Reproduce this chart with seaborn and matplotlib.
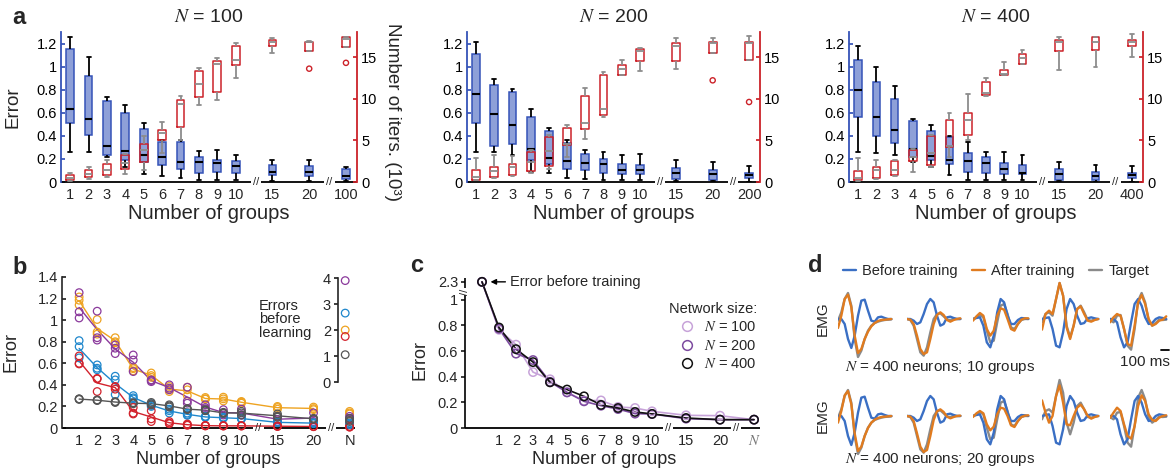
import matplotlib
matplotlib.use("Agg")
import matplotlib.pyplot as plt
from matplotlib.lines import Line2D
import pandas as pd
import seaborn as sns

sns.set_theme(style="ticks")
plt.rcParams["font.family"] = ["Liberation Sans", "DejaVu Sans"]
plt.rcParams["mathtext.fontset"] = "stix"
plt.rcParams["axes.unicode_minus"] = False

# ------------------------------------------------------------------ data
GROUP_POS = [1, 2, 3, 4, 5, 6, 7, 8, 9, 10, 12, 14, 16]
GROUP_NAMES = ["1", "2", "3", "4", "5", "6", "7", "8", "9", "10", "15", "20"]

# five-number summaries (min, q1, median, q3, max) of the error per group count
err_n100 = [
    [0.26, 0.51, 0.635, 1.15, 1.26], [0.26, 0.41, 0.55, 0.92, 1.08],
    [0.22, 0.235, 0.31, 0.70, 0.74], [0.13, 0.19, 0.27, 0.60, 0.67],
    [0.07, 0.17, 0.23, 0.46, 0.51], [0.05, 0.15, 0.22, 0.35, 0.365],
    [0.037, 0.113, 0.177, 0.345, 0.365], [0.017, 0.075, 0.17, 0.215, 0.27],
    [0.017, 0.09, 0.168, 0.19, 0.278], [0.017, 0.075, 0.139, 0.183, 0.235],
    [0.01, 0.06, 0.09, 0.15, 0.19], [0.01, 0.05, 0.09, 0.14, 0.19],
    [0.01, 0.03, 0.05, 0.11, 0.13],
]
err_n200 = [
    [0.26, 0.51, 0.76, 1.11, 1.21], [0.26, 0.315, 0.59, 0.845, 0.89],
    [0.23, 0.33, 0.49, 0.78, 0.81], [0.09, 0.19, 0.285, 0.56, 0.635],
    [0.08, 0.16, 0.21, 0.44, 0.47], [0.035, 0.11, 0.18, 0.335, 0.365],
    [0.03, 0.10, 0.165, 0.24, 0.28], [0.015, 0.08, 0.155, 0.20, 0.26],
    [0.015, 0.07, 0.10, 0.16, 0.23], [0.015, 0.067, 0.10, 0.15, 0.24],
    [0.005, 0.023, 0.08, 0.12, 0.19], [0.005, 0.015, 0.067, 0.10, 0.175],
    [0.0, 0.035, 0.065, 0.08, 0.14],
]
err_n400 = [
    [0.26, 0.56, 0.80, 1.06, 1.18], [0.25, 0.40, 0.56, 0.87, 1.00],
    [0.23, 0.34, 0.45, 0.72, 0.83], [0.175, 0.22, 0.285, 0.525, 0.55],
    [0.13, 0.19, 0.225, 0.44, 0.49], [0.06, 0.155, 0.195, 0.39, 0.40],
    [0.02, 0.09, 0.185, 0.25, 0.35], [0.015, 0.08, 0.165, 0.22, 0.26],
    [0.015, 0.07, 0.11, 0.165, 0.26], [0.015, 0.067, 0.08, 0.145, 0.23],
    [0.005, 0.015, 0.067, 0.11, 0.175], [0.003, 0.015, 0.05, 0.087, 0.15],
    [0.0, 0.035, 0.058, 0.08, 0.14],
]

# five-number summaries of the number of iterations (x 10^3)
iters_n100 = [
    [0.1, 0.3, 0.5, 0.85, 1.1], [0.35, 0.6, 1.0, 1.4, 1.8],
    [0.6, 0.8, 1.5, 2.2, 2.7], [1.0, 1.6, 2.3, 3.2, 3.4],
    [1.5, 2.4, 3.8, 4.6, 5.5], [3.5, 5.1, 5.85, 6.25, 7.2],
    [5.0, 6.6, 9.4, 9.8, 10.3], [9.2, 10.2, 11.8, 13.3, 13.7],
    [9.8, 10.8, 14.2, 14.5, 14.9], [12.5, 14.0, 14.6, 16.3, 16.7],
    [15.5, 16.3, 16.8, 17.0, 17.3], [15.7, 15.7, 16.8, 16.8, 16.9],
    [16.2, 16.2, 17.2, 17.4, 17.4],
]
iters_n200 = [
    [0.2, 0.3, 0.6, 1.4, 2.9], [0.5, 0.6, 1.3, 1.8, 3.2],
    [0.7, 0.9, 1.8, 2.2, 3.1], [1.1, 1.3, 2.4, 3.6, 3.8],
    [1.6, 1.96, 3.7, 5.4, 5.7], [3.0, 4.4, 4.6, 6.44, 6.84],
    [5.12, 6.32, 7.12, 10.36, 11.24], [7.84, 8.04, 8.72, 12.8, 13.2],
    [12.8, 12.9, 13.6, 14.0, 14.7], [13.3, 14.5, 15.7, 16.0, 16.1],
    [13.6, 14.5, 16.3, 16.7, 17.3], [15.5, 15.5, 16.7, 16.8, 17.3],
    [14.7, 14.7, 16.7, 16.8, 17.5],
]
iters_n400 = [
    [0.1, 0.2, 0.5, 1.3, 2.9], [0.4, 0.5, 1.5, 1.8, 2.7],
    [0.7, 0.9, 1.5, 2.5, 2.6], [1.2, 2.5, 3.0, 3.9, 4.0],
    [1.8, 2.1, 3.5, 5.5, 5.7], [3.0, 4.2, 4.3, 7.4, 8.3],
    [5.0, 5.6, 7.4, 8.3, 10.6], [10.3, 10.5, 10.7, 12.0, 12.5],
    [12.8, 12.9, 13.0, 13.5, 14.4], [14.2, 14.2, 14.9, 15.4, 15.8],
    [13.5, 15.7, 16.8, 17.1, 17.4], [13.8, 15.9, 16.8, 17.4, 17.4],
    [15.0, 16.3, 16.8, 17.0, 17.8],
]
outlier_groups_n100 = ["20", "100"]
outlier_iters_n100 = [13.6, 14.3]
outlier_groups_n200 = ["20", "200"]
outlier_iters_n200 = [12.2, 9.6]
outlier_groups_n400 = []
outlier_iters_n400 = []

# panel b: error of repeated runs for five target sets (groups 1..10, 15, 20, N)
runs_orange = [
    [1.215, 1.006, 0.837, 0.55, 0.51, 0.385, 0.378, 0.283, 0.286, 0.246, 0.20, 0.194, 0.154],
    [1.185, 0.89, 0.79, 0.53, 0.486, 0.338, 0.354, 0.268, 0.25, 0.23, 0.175, 0.17, 0.13],
    [1.14, 0.87, 0.80, 0.56, 0.47, 0.36, 0.30, 0.27, 0.27, 0.24, 0.19, 0.18, 0.14],
]
runs_purple = [
    [1.255, 1.083, 0.77, 0.677, 0.446, 0.40, 0.378, 0.215, 0.17, 0.175, 0.108, 0.14, 0.108],
    [1.077, 0.837, 0.69, 0.63, 0.43, 0.354, 0.23, 0.178, 0.14, 0.123, 0.077, 0.077, 0.09],
    [1.02, 0.815, 0.74, 0.523, 0.44, 0.37, 0.25, 0.19, 0.12, 0.12, 0.06, 0.06, 0.08],
]
runs_blue = [
    [0.81, 0.585, 0.48, 0.30, 0.225, 0.175, 0.138, 0.108, 0.10, 0.09, 0.052, 0.046, 0.046],
    [0.754, 0.554, 0.446, 0.27, 0.20, 0.138, 0.117, 0.10, 0.09, 0.085, 0.05, 0.04, 0.03],
    [0.65, 0.54, 0.31, 0.28, 0.21, 0.16, 0.125, 0.10, 0.095, 0.088, 0.055, 0.05, 0.035],
]
runs_red = [
    [0.668, 0.46, 0.385, 0.19, 0.16, 0.06, 0.037, 0.025, 0.022, 0.022, 0.02, 0.015, 0.015],
    [0.594, 0.455, 0.36, 0.138, 0.085, 0.046, 0.03, 0.02, 0.02, 0.02, 0.015, 0.015, 0.01],
    [0.60, 0.338, 0.38, 0.13, 0.06, 0.04, 0.025, 0.02, 0.018, 0.018, 0.015, 0.012, 0.008],
]
runs_gray = [
    [0.27, 0.26, 0.24, 0.23, 0.237, 0.215, 0.175, 0.17, 0.145, 0.155, 0.13, 0.09, 0.09],
    [0.265, 0.255, 0.237, 0.225, 0.225, 0.205, 0.18, 0.165, 0.14, 0.14, 0.11, 0.085, 0.06],
    [0.27, 0.258, 0.245, 0.235, 0.215, 0.195, 0.17, 0.16, 0.135, 0.12, 0.10, 0.08, 0.07],
]
error_before_learning = [2.0, 3.9, 2.65, 1.75, 1.05]  # orange, purple, blue, red, gray

# panel c: mean error vs number of groups (first value: before training)
C_POS = [0, 1, 2, 3, 4, 5, 6, 7, 8, 9, 10, 12, 14, 16]
c_err_n100 = [2.3, 0.766, 0.65, 0.436, 0.38, 0.278, 0.213, 0.215, 0.164, 0.156, 0.13, 0.099, 0.096, 0.065]
c_err_n200 = [2.3, 0.774, 0.58, 0.53, 0.36, 0.278, 0.208, 0.174, 0.148, 0.112, 0.109, 0.073, 0.065, 0.065]
c_err_n400 = [2.3, 0.784, 0.615, 0.514, 0.356, 0.30, 0.247, 0.18, 0.156, 0.125, 0.11, 0.078, 0.065, 0.065]

# panel d: EMG traces of five muscles, sampled every 40 ms
TIME_MS = [0, 40, 80, 120, 160, 200, 240, 280, 320, 360, 400, 440, 480, 520, 560, 600, 640]
emg_before = [
    [0, 0, -15, -60, -87, -50, 10, 55, 58, 25, -5, -8, 5, 7, 3, 0, 0],
    [0, 0, -5, -15, -10, 15, 45, 60, 50, 10, -20, -15, 5, 7, 3, 0, 0],
    [0, 3, 5, -20, -70, -85, -50, 20, 60, 50, 10, -15, -15, -3, 3, 2, 0],
    [0, 3, 5, -30, -80, -85, -40, 30, 60, 45, 10, -15, -12, 2, 5, 2, 0],
    [0, 0, -10, -55, -85, -70, -10, 45, 60, 40, 5, -15, -12, 0, 5, 3, 0],
]
emg_target = [
    [-5, 20, 60, 78, 40, -60, -114, -95, -60, -35, -20, -12, -8, -5, -3, -2, -1],
    [0, -3, -20, -60, -100, -110, -85, -40, 0, 15, 17, 8, -2, -3, 0, 0, 0],
    [0, 5, 12, 5, -35, -70, -65, -10, 40, 45, 15, -25, -30, -15, -3, 0, 0],
    [-10, 15, 20, 10, 60, 108, 70, -20, -55, -20, 30, 40, 20, -3, -5, -2, 0],
    [-3, -10, 10, 12, -30, -80, -92, -30, 55, 78, 50, -5, -20, -12, -2, -3, -2],
]
emg_after_10 = [
    [-27, 10, 60, 73, 35, -50, -102, -90, -60, -38, -22, -12, -6, -3, -2, -1, 0],
    [0, -2, -15, -50, -90, -105, -100, -60, -15, 12, 20, 12, -3, -8, -3, 0, 2],
    [-5, 8, 18, 10, -30, -50, -35, 10, 32, 28, 0, -30, -35, -15, -2, 2, 2],
    [-32, 15, 25, 15, 60, 108, 70, -25, -60, -20, 30, 38, 15, -5, -8, -3, 0],
    [-10, 5, 15, 10, -30, -75, -80, -20, 50, 72, 45, 0, -20, -15, -5, -2, 8],
]
emg_after_20 = [
    [-20, 15, 62, 75, 35, -52, -105, -92, -60, -36, -20, -11, -6, -3, -2, -1, 0],
    [0, -2, -15, -52, -92, -108, -102, -60, -12, 14, 20, 12, -2, -7, -3, 0, 1],
    [-3, 8, 15, 8, -25, -43, -32, 5, 25, 22, 0, -28, -33, -15, -3, 1, 2],
    [47, 10, -20, 0, 60, 92, 40, -25, -28, 0, 25, 34, 20, 0, -8, -3, 0],
    [-6, 10, 25, 15, -25, -60, -68, -30, 30, 62, 45, 5, -12, -15, -5, 0, 2],
]

# ------------------------------------------------------------------ style
W, H = 1176, 474
BLUE_EDGE = "#3553b8"
BLUE_FACE = "#8ea0d8"
RED = "#cc2229"
WHISK_GRAY = "#8c8c8c"
B_COLORS = ["#eea321", "#8b3a9c", "#1f87cc", "#d2222c", "#555555"]
C_COLORS = ["#c7a3d9", "#7c4a9f", "#111111"]
EMG_BLUE, EMG_ORANGE, EMG_GRAY = "#3a6fc4", "#e07b1f", "#8a8a8a"
TICK_FS, LABEL_FS = 10.5, 13

fig = plt.figure(figsize=(W / 100, H / 100), dpi=100)


def rect(l, t, r, b):
    return [l / W, 1 - b / H, (r - l) / W, (b - t) / H]


def box_frame(stats):
    rows = [(p, v) for p, five in zip(GROUP_POS, stats) for v in five]
    return pd.DataFrame(rows, columns=["pos", "val"])


def broken_xaxis(ax, lo, hi, breaks, gap=0.28):
    ax.spines["bottom"].set_visible(False)
    tr = ax.get_xaxis_transform()
    edges = [lo]
    for b in breaks:
        edges += [b - gap, b + gap]
    edges.append(hi)
    for a, b in zip(edges[0::2], edges[1::2]):
        ax.plot([a, b], [0, 0], transform=tr, color="black", lw=1.3,
                clip_on=False, solid_capstyle="butt")
    for b in breaks:
        ax.text(b, 0, "//", transform=tr, ha="center", va="center",
                fontsize=8, clip_on=False)


# ------------------------------------------------------------------ panel a
panel_a = [
    (61, 357, "100", err_n100, iters_n100, outlier_groups_n100, outlier_iters_n100),
    (467, 760, "200", err_n200, iters_n200, outlier_groups_n200, outlier_iters_n200),
    (849, 1143, "400", err_n400, iters_n400, outlier_groups_n400, outlier_iters_n400),
]
for i, (l, r, n, err, its, og, oi) in enumerate(panel_a):
    names = GROUP_NAMES + [n]
    pos_of = dict(zip(names, GROUP_POS))
    ax = fig.add_axes(rect(l, 32, r, 182))
    sns.boxplot(data=box_frame(err), x="pos", y="val", native_scale=True, width=0.42,
                whis=(0, 100), showfliers=False, color=BLUE_FACE, linecolor=BLUE_EDGE,
                saturation=1, linewidth=1.1,
                medianprops=dict(color="black", linewidth=1.5),
                whiskerprops=dict(color="black", linewidth=1.3),
                capprops=dict(color="black", linewidth=1.3), ax=ax)
    ax2 = ax.twinx()
    sns.boxplot(data=box_frame(its), x="pos", y="val", native_scale=True, width=0.42,
                whis=(0, 100), showfliers=False, fill=False, color=RED, saturation=1,
                linewidth=1.1,
                medianprops=dict(color=WHISK_GRAY, linewidth=1.3),
                whiskerprops=dict(color=WHISK_GRAY, linewidth=1.3),
                capprops=dict(color=WHISK_GRAY, linewidth=1.3), ax=ax2)
    if og:
        sns.scatterplot(x=[pos_of[g] for g in og], y=oi, marker="o", s=14,
                        color=RED, facecolor="none", edgecolor=RED, linewidth=1,
                        ax=ax2, zorder=4)
    for a in (ax, ax2):
        a.set_xlim(0.5, 16.6)
    ax.set_ylim(0, 1.3)
    ax2.set_ylim(0, 18)
    ax.set_yticks([0, 0.2, 0.4, 0.6, 0.8, 1.0, 1.2])
    ax.set_yticklabels(["0", "0.2", "0.4", "0.6", "0.8", "1", "1.2"])
    ax2.set_yticks([0, 5, 10, 15])
    ax2.set_yticklabels(["0", "5", "10", "15"])
    ax.set_xticks(GROUP_POS)
    ax.set_xticklabels(names)
    for s in ("top", "right"):
        ax.spines[s].set_visible(False)
    for s in ("top", "left", "bottom"):
        ax2.spines[s].set_visible(False)
    ax.spines["left"].set_color(BLUE_EDGE)
    ax.spines["left"].set_linewidth(1.3)
    ax2.spines["right"].set_color(RED)
    ax2.spines["right"].set_linewidth(1.3)
    ax.tick_params(axis="y", colors=BLUE_EDGE, labelcolor="black", direction="in",
                   length=3, labelsize=TICK_FS, pad=3)
    ax2.tick_params(axis="y", colors=RED, labelcolor="black", direction="in",
                    length=3, labelsize=TICK_FS, pad=3)
    ax.tick_params(axis="x", length=0, labelsize=TICK_FS, pad=4)
    broken_xaxis(ax, 0.5, 16.6, (11.1, 15.1))
    ax.set_title(f"$N$ = {n}", fontsize=14, pad=7)
    ax.set_xlabel("Number of groups", fontsize=14.5)
    ax.xaxis.set_label_coords(0.5, -0.145)
    if i == 0:
        ax.set_ylabel("Error", fontsize=13.5)
        ax.yaxis.set_label_coords(-0.135, 0.5)
        ax2.set_ylabel("Number of iters. (10³)", fontsize=13.5, rotation=270,
                       va="bottom")
        ax2.yaxis.set_label_coords(1.09, 0.47)
    else:
        ax.set_ylabel("")
        ax2.set_ylabel("")

# ------------------------------------------------------------------ panel b
axb = fig.add_axes(rect(62, 277, 355, 428))
for color, runs in zip(B_COLORS, [runs_orange, runs_purple, runs_blue, runs_red, runs_gray]):
    df = pd.DataFrame([(p, v) for run in runs for p, v in zip(GROUP_POS, run)],
                      columns=["pos", "val"])
    sns.lineplot(data=df[df["pos"] <= 14], x="pos", y="val", estimator="mean",
                 errorbar=None, color=color, lw=1.0, ax=axb)
    sns.scatterplot(data=df, x="pos", y="val", marker="o", s=30, color=color,
                    facecolor="none", edgecolor=color, linewidth=0.9, ax=axb,
                    clip_on=False, zorder=3)
axb.set_xlim(0.05, 16.3)
axb.set_ylim(0, 1.4)
axb.set_yticks([0, 0.2, 0.4, 0.6, 0.8, 1.0, 1.2, 1.4])
axb.set_yticklabels(["0", "0.2", "0.4", "0.6", "0.8", "1", "1.2", "1.4"])
axb.set_xticks(GROUP_POS)
axb.set_xticklabels(GROUP_NAMES + ["N"])
for s in ("top", "right"):
    axb.spines[s].set_visible(False)
axb.spines["left"].set_linewidth(1.2)
axb.tick_params(axis="y", direction="in", length=3, labelsize=TICK_FS, pad=3)
axb.tick_params(axis="x", length=0, labelsize=TICK_FS, pad=4)
broken_xaxis(axb, 0.05, 16.3, (10.95, 14.95))
axb.set_xlabel("Number of groups", fontsize=LABEL_FS)
axb.xaxis.set_label_coords(0.5, -0.15)
axb.set_ylabel("Error", fontsize=LABEL_FS)
axb.yaxis.set_label_coords(-0.145, 0.5)

axi = fig.add_axes(rect(338, 278, 356, 382))
for color, v in zip(B_COLORS, error_before_learning):
    sns.scatterplot(x=[0.4], y=[v], marker="o", s=30, color=color, facecolor="none",
                    edgecolor=color, linewidth=0.9, ax=axi, clip_on=False)
axi.set_xlim(0, 1)
axi.set_ylim(0, 4)
axi.set_yticks([0, 1, 2, 3, 4])
axi.set_xticks([])
for s in ("top", "right", "bottom"):
    axi.spines[s].set_visible(False)
axi.spines["left"].set_linewidth(1.2)
axi.patch.set_alpha(0)
axi.tick_params(axis="y", direction="out", length=3, labelsize=TICK_FS, pad=2)
fig.text(259 / W, 1 - 299 / H, "Errors\nbefore\nlearning", ha="left", va="top",
         fontsize=10.5, linespacing=0.95)

# ------------------------------------------------------------------ panel c
BREAK_SCALE = 0.14 / 1.3


def broken_y(v):
    return v if v <= 1 else 1 + (v - 1) * BREAK_SCALE


axc = fig.add_axes(rect(465, 278, 760, 428))
for color, vals in zip(C_COLORS, [c_err_n100, c_err_n200, c_err_n400]):
    ys = [broken_y(v) for v in vals]
    sns.lineplot(x=C_POS, y=ys, color=color, lw=1.2, ax=axc)
    sns.scatterplot(x=C_POS, y=ys, marker="o", s=36, color=color, facecolor="none",
                    edgecolor=color, linewidth=1.1, ax=axc, clip_on=False, zorder=3)
axc.set_xlim(-1, 16.35)
axc.set_ylim(0, 1.17)
before_val = c_err_n400[0]
axc.set_yticks([0, 0.2, 0.4, 0.6, 0.8, 1.0, broken_y(before_val)])
axc.set_yticklabels(["0", "0.2", "0.4", "0.6", "0.8", "1", f"{before_val:g}"])
axc.set_xticks(GROUP_POS)
axc.set_xticklabels(GROUP_NAMES + ["$N$"])
axc.get_xticklabels()[-1].set_color("#777777")
for s in ("top", "right", "left"):
    axc.spines[s].set_visible(False)
ytr = axc.get_yaxis_transform()
axc.plot([0, 0], [0, 1.035], transform=ytr, color="black", lw=1.2, clip_on=False,
         solid_capstyle="butt")
axc.plot([0, 0], [1.095, 1.17], transform=ytr, color="black", lw=1.2, clip_on=False,
         solid_capstyle="butt")
axc.text(0, 1.065, "//", transform=ytr, rotation=90, ha="center", va="center",
         fontsize=8, clip_on=False)
axc.tick_params(axis="y", direction="out", length=3, labelsize=TICK_FS, pad=2)
axc.tick_params(axis="x", length=0, labelsize=TICK_FS, pad=4)
broken_xaxis(axc, -1, 16.35, (10.95, 14.95))
axc.set_xlabel("Number of groups", fontsize=LABEL_FS)
axc.xaxis.set_label_coords(0.47, -0.15)
axc.set_ylabel("Error", fontsize=LABEL_FS)
axc.yaxis.set_label_coords(-0.125, 0.45)
axc.annotate("Error before training", xy=(0.5, broken_y(before_val)),
             xytext=(1.65, broken_y(before_val)), va="center", ha="left",
             fontsize=10.5,
             arrowprops=dict(arrowstyle="-|>", color="black", lw=1,
                             mutation_scale=8, shrinkA=1, shrinkB=0))
c_handles = [Line2D([], [], ls="", marker="o", ms=7, mfc="none", mec=c, mew=1.1)
             for c in C_COLORS]
axc.legend(c_handles, ["$N$ = 100", "$N$ = 200", "$N$ = 400"], title="Network size:",
           loc="upper right", bbox_to_anchor=(757 / W, 1 - 302 / H),
           bbox_transform=fig.transFigure, frameon=False, alignment="right",
           fontsize=10.5, title_fontsize=10.5, handletextpad=0.2, labelspacing=0.3,
           borderpad=0, borderaxespad=0)

# ------------------------------------------------------------------ panel d
COL_X = [(838, 893), (907, 962), (973, 1030), (1042, 1100), (1110, 1168)]
ROW_BASE = [319, 416]
emg_axes = {}
for row, (base, after) in enumerate(zip(ROW_BASE, [emg_after_10, emg_after_20])):
    for col, (x0, x1) in enumerate(COL_X):
        axd = fig.add_axes(rect(x0, base - 40, x1, base + 40))
        sns.lineplot(x=TIME_MS, y=emg_target[col], color=EMG_GRAY, lw=1.7, ax=axd)
        sns.lineplot(x=TIME_MS, y=emg_before[col], color=EMG_BLUE, lw=1.7, ax=axd)
        sns.lineplot(x=TIME_MS, y=after[col], color=EMG_ORANGE, lw=1.7, ax=axd)
        axd.set_xlim(0, 660)
        axd.set_ylim(-120, 120)
        axd.axis("off")
        emg_axes[(row, col)] = axd
    fig.text(823 / W, 1 - base / H, "EMG", rotation=90, ha="center", va="center",
             fontsize=11)

fig.text(845 / W, 1 - 368 / H, "$N$ = 400 neurons; 10 groups", ha="left",
         va="center", fontsize=11)
fig.text(845 / W, 1 - 460 / H, "$N$ = 400 neurons; 20 groups", ha="left",
         va="center", fontsize=11)

bar_ax = emg_axes[(0, 4)]
bar_ax.plot([576, 676], [-93, -93], color="black", lw=1.3, clip_on=False)
bar_ax.text(676, -130, "100 ms", ha="right", va="center", fontsize=11, clip_on=False)

d_handles = [Line2D([], [], color=c, lw=1.7) for c in (EMG_BLUE, EMG_ORANGE, EMG_GRAY)]
fig.legend(d_handles, ["Before training", "After training", "Target"], loc="upper left",
           bbox_to_anchor=(843 / W, 1 - 264 / H), ncol=3, frameon=False, fontsize=10.5,
           handlelength=0.9, handletextpad=0.4, columnspacing=1.0, borderpad=0,
           borderaxespad=0)

# ------------------------------------------------------------------ panel letters
for letter, (px, py) in zip("abcd", [(12, 18), (12, 267), (410, 265), (808, 265)]):
    fig.text(px / W, 1 - py / H, letter, fontsize=17, fontweight="bold",
             ha="left", va="center")

fig.savefig("out.png", dpi=100)
